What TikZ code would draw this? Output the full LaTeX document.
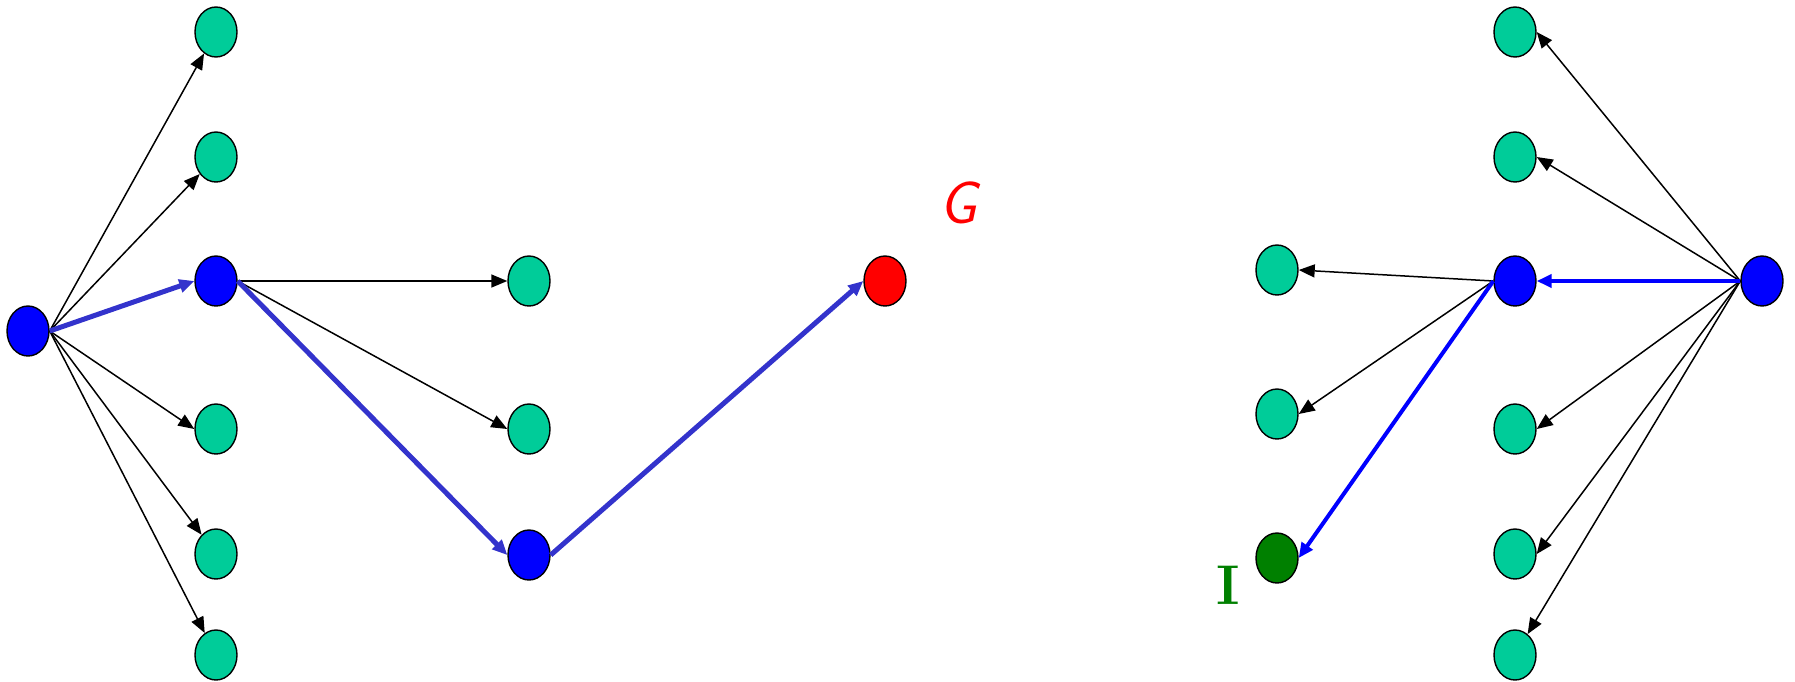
\documentclass[tikz,border=0pt]{standalone}
\usetikzlibrary{shapes.geometric,arrows.meta}
\definecolor{leaf}{RGB}{0,204,153}
\definecolor{pathblue}{RGB}{51,51,204}
\definecolor{dkgreen}{RGB}{0,128,0}
\begin{document}
\begin{tikzpicture}[x=0.5pt,y=-0.5pt,
  vert/.style={ellipse,draw=black,line width=0.7pt,minimum width=21pt,minimum height=25pt,inner sep=0pt},
  leafnode/.style={vert,fill=leaf},
  bluenode/.style={vert,fill=blue},
  rednode/.style={vert,fill=red},
  goalnode/.style={vert,fill=dkgreen},
  edge/.style={line width=0.75pt,-{Triangle[length=8pt,width=6.5pt]}},
  thickpath/.style={draw=pathblue,line width=2.5pt,-{Triangle[length=7.5pt,width=6.5pt]}},
  bluepath/.style={draw=blue,line width=2pt,-{Triangle[length=7.5pt,width=6.5pt]}}]
\useasboundingbox (0,0) rectangle (1795,681);
% left tree
\node[bluenode] (r1) at (28,331) {};
\node[leafnode] (a1) at (216,32) {};
\node[leafnode] (a2) at (216,157) {};
\node[bluenode] (h1) at (216,281) {};
\node[leafnode] (a4) at (216,429) {};
\node[leafnode] (a5) at (216,554) {};
\node[leafnode] (a6) at (216,655) {};
\node[leafnode] (b1) at (529,281) {};
\node[leafnode] (b2) at (529,429) {};
\node[bluenode] (h2) at (529,555) {};
\node[rednode] (g) at (885,281) {};
\node[text=red,font=\sffamily\itshape\fontsize{30}{30}\selectfont] (glabel) at (958,203) {G};
\draw[edge] (r1.east) -- (a1);
\draw[edge] (r1.east) -- (a2);
\draw[edge] (r1.east) -- (a4.west);
\draw[edge] (r1.east) -- (a5);
\draw[edge] (r1.east) -- (a6);
\draw[thickpath] (r1.east) -- (h1.west);
\draw[edge] (h1.east) -- (b1.west);
\draw[edge] (h1.east) -- (b2.west);
\draw[thickpath] (h1.east) -- (h2.west);
\draw[thickpath] (h2.east) -- (g.west);
% right tree
\node[bluenode] (r2) at (1762,281) {};
\node[leafnode] (c1) at (1515,32) {};
\node[leafnode] (c2) at (1515,157) {};
\node[bluenode] (m) at (1515,281) {};
\node[leafnode] (c4) at (1515,429) {};
\node[leafnode] (c5) at (1515,554) {};
\node[leafnode] (c6) at (1515,655) {};
\node[leafnode] (d1) at (1277,270) {};
\node[leafnode] (d2) at (1277,414) {};
\node[goalnode] (d3) at (1277,558) {};
\node[text=dkgreen,font=\bfseries\fontsize{28}{28}\selectfont] (ilabel) at (1228,585) {I};
\draw[edge] (r2.west) -- (c1.east);
\draw[edge] (r2.west) -- (c2.east);
\draw[edge] (r2.west) -- (c4.east);
\draw[edge] (r2.west) -- (c5.east);
\draw[edge] (r2.west) -- (c6);
\draw[bluepath] (r2.west) -- (m.east);
\draw[edge] (m.west) -- (d1.east);
\draw[edge] (m.west) -- (d2.east);
\draw[bluepath] (m.west) -- (d3.east);
\end{tikzpicture}
\end{document}
